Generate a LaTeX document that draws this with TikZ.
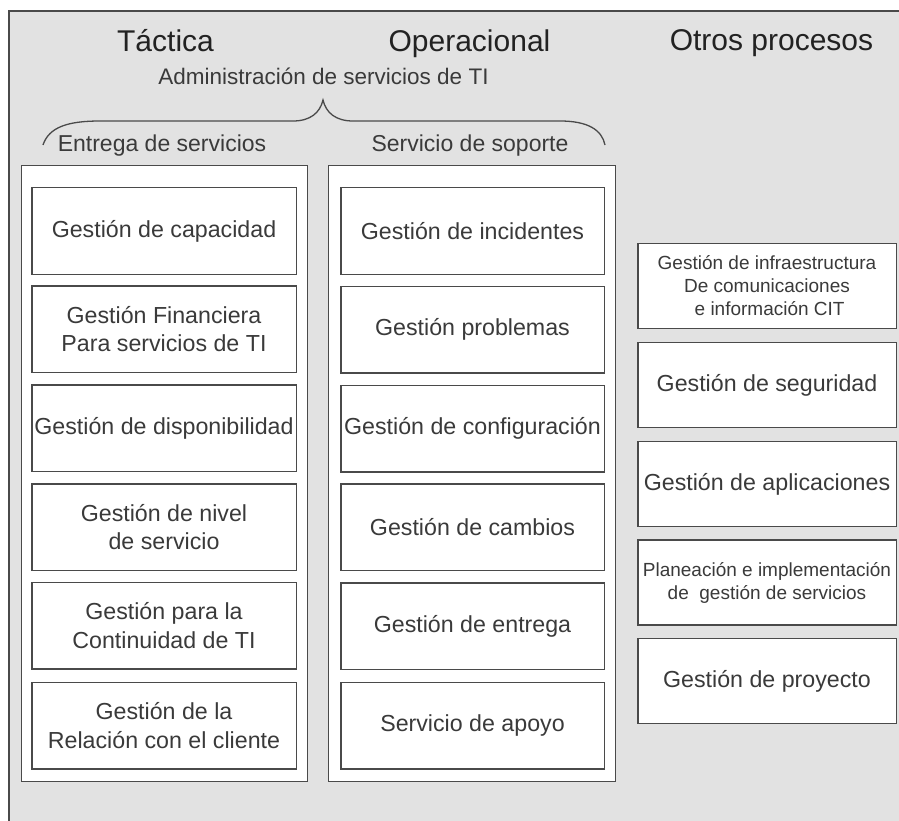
\documentclass[tikz,border=0pt]{standalone}
\usepackage{fontspec}
\setmainfont{Liberation Sans}
\definecolor{bg}{HTML}{E2E2E2}
\definecolor{ln}{HTML}{4A4A4A}
\definecolor{tx}{HTML}{3A3A3A}
\definecolor{hd}{HTML}{222222}
\tikzset{
  cont/.style={draw=ln, line width=1.5pt, fill=white, inner sep=0pt},
  lbox/.style={draw=ln, line width=1.5pt, fill=white, minimum width=264.5, minimum height=86.5, inner sep=0pt, align=center, text=tx, font=\fontsize{23.2}{28.5}\selectfont},
  mbox/.style={lbox, minimum width=263.5},
  rbox/.style={lbox, minimum width=258.5, minimum height=85},
  rsmall/.style={rbox, font=\fontsize{19}{23}\selectfont},
  head/.style={anchor=base, text=hd, font=\fontsize{30}{36}\selectfont},
  sub/.style={anchor=base, text=tx, font=\fontsize{23}{27}\selectfont},
}
\begin{document}
\begin{tikzpicture}[x=1pt,y=-1pt]
\useasboundingbox (0,0) rectangle (899,821);
% outer frame
\fill[bg] (9,11) rectangle (899,821);
\draw[ln, line width=1.5pt] (9,821) -- (9,11) -- (899,11);
% headers
\node[head] (tac) at (165.5,52) {Táctica};
\node[head] (ope) at (469.5,52) {Operacional};
\node[head] (otr) at (771.5,51) {Otros procesos};
\node[sub, font=\fontsize{22.5}{27}\selectfont] (adm) at (323.5,85) {Administración de servicios de TI};
% brace
\draw[ln, line width=1.3pt] (43,145) .. controls (49,127) and (68,121) .. (100,121) -- (293,121)
   .. controls (310,121) and (320,113) .. (323,100)
   .. controls (326,113) and (336,121) .. (353,121) -- (560,121)
   .. controls (588,121) and (602,130) .. (605,145);
\node[sub] (ent) at (162,152) {Entrega de servicios};
\node[sub] (sop) at (470,152) {Servicio de soporte};
% containers
\node[cont, minimum width=286, minimum height=616] (lc) at (164.5,473.5) {};
\node[cont, minimum width=287, minimum height=616] (mc) at (472,473.5) {};
% left column
\node[lbox] (l1) at (164,231) {Gestión de capacidad};
\node[lbox] (l2) at (164,329) {Gestión Financiera\\Para servicios de TI};
\node[lbox] (l3) at (164,428) {Gestión de disponibilidad};
\node[lbox] (l4) at (164,527) {Gestión de nivel\\de servicio};
\node[lbox] (l5) at (164,625.5) {Gestión para la\\Continuidad de TI};
\node[lbox] (l6) at (164,725.5) {Gestión de la\\Relación con el cliente};
% middle column
\node[mbox] (m1) at (472.5,231) {Gestión de incidentes};
\node[mbox] (m2) at (472.5,329.5) {Gestión problemas};
\node[mbox] (m3) at (472.5,428.5) {Gestión de configuración};
\node[mbox] (m4) at (472.5,527) {Gestión de cambios};
\node[mbox] (m5) at (472.5,626) {Gestión de entrega};
\node[mbox] (m6) at (472.5,725.5) {Servicio de apoyo};
% right column
\node[rsmall] (r1) at (767,286) {Gestión de infraestructura\\De comunicaciones\\\ e información CIT};
\node[rbox] (r2) at (767,385) {Gestión de seguridad};
\node[rbox] (r3) at (767,484) {Gestión de aplicaciones};
\node[rsmall] (r4) at (767,582.5) {Planeación e implementación\\de\ \ gestión de servicios};
\node[rbox] (r5) at (767,681) {Gestión de proyecto};
\end{tikzpicture}
\end{document}
